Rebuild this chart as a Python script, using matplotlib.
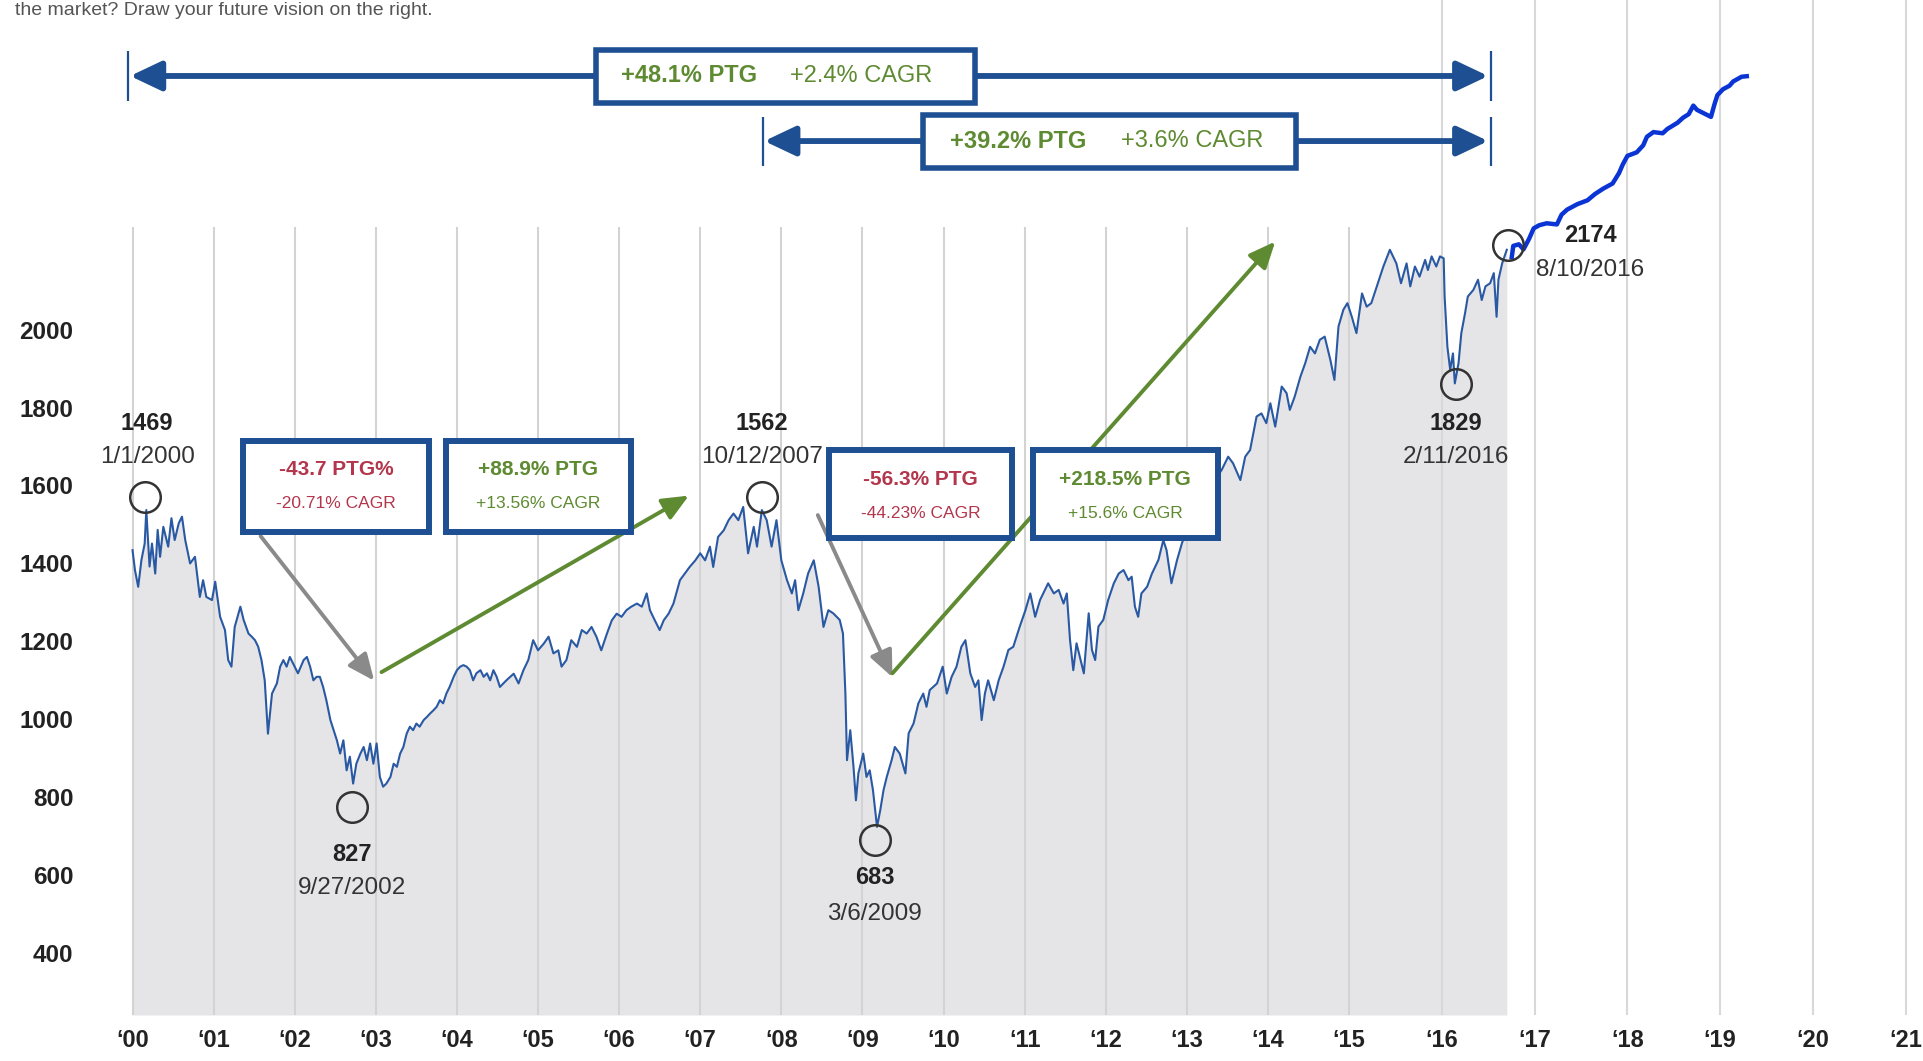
import numpy as np
import matplotlib
matplotlib.use("Agg")
import matplotlib.pyplot as plt
from matplotlib.patches import Rectangle

# ---------------- data ----------------
seg_a_years = [2000.00, 2000.03, 2000.07, 2000.11, 2000.15, 2000.17, 2000.21, 2000.24, 2000.28, 2000.31,
               2000.34, 2000.38, 2000.44, 2000.48, 2000.52, 2000.57, 2000.61, 2000.65, 2000.71, 2000.77,
               2000.83, 2000.87, 2000.91, 2000.98, 2001.02, 2001.08, 2001.14, 2001.18, 2001.22, 2001.26,
               2001.33, 2001.37, 2001.43, 2001.47, 2001.51, 2001.55, 2001.59, 2001.63, 2001.67, 2001.72,
               2001.78, 2001.82, 2001.86, 2001.90, 2001.94, 2001.98, 2002.04, 2002.11, 2002.15, 2002.19,
               2002.23, 2002.27, 2002.31, 2002.35, 2002.39, 2002.44, 2002.48, 2002.52, 2002.56, 2002.60,
               2002.64, 2002.68, 2002.72, 2002.76, 2002.81, 2002.85, 2002.89, 2002.93, 2002.97, 2003.01,
               2003.05, 2003.09, 2003.13, 2003.18, 2003.22, 2003.26, 2003.30, 2003.34, 2003.38, 2003.42,
               2003.46, 2003.50, 2003.54, 2003.59, 2003.63, 2003.67, 2003.71, 2003.75, 2003.79, 2003.83,
               2003.87, 2003.91, 2003.96, 2004.00, 2004.04, 2004.08, 2004.12, 2004.16, 2004.20, 2004.24,
               2004.29, 2004.33, 2004.37, 2004.41, 2004.45, 2004.49]
seg_a_values = [1434, 1383, 1340, 1409, 1451, 1537, 1392, 1451, 1374, 1486,
                1417, 1494, 1443, 1516, 1460, 1503, 1520, 1460, 1400, 1417,
                1314, 1357, 1314, 1306, 1353, 1263, 1229, 1152, 1135, 1237,
                1289, 1255, 1220, 1212, 1203, 1186, 1152, 1100, 963, 1066,
                1092, 1135, 1152, 1135, 1160, 1143, 1118, 1152, 1160, 1135,
                1100, 1109, 1109, 1083, 1049, 998, 972, 946, 912, 946,
                869, 904, 835, 886, 912, 929, 895, 938, 886, 938,
                852, 827, 835, 852, 886, 878, 912, 929, 963, 981,
                972, 989, 981, 998, 1006, 1015, 1023, 1032, 1049, 1041,
                1066, 1083, 1109, 1126, 1135, 1139, 1135, 1126, 1100, 1118,
                1126, 1109, 1118, 1100, 1126, 1109]

seg_b_years = [2004.53, 2004.61, 2004.70, 2004.76, 2004.82, 2004.88, 2004.94, 2005.00, 2005.07, 2005.13,
               2005.19, 2005.25, 2005.29, 2005.35, 2005.41, 2005.48, 2005.54, 2005.60, 2005.66, 2005.72,
               2005.78, 2005.85, 2005.91, 2005.97, 2006.03, 2006.09, 2006.15, 2006.22, 2006.28, 2006.34,
               2006.38, 2006.44, 2006.50, 2006.55, 2006.61, 2006.67, 2006.75, 2006.81, 2006.87, 2006.94,
               2007.00, 2007.06, 2007.12, 2007.16, 2007.22, 2007.29, 2007.35, 2007.41, 2007.47, 2007.53,
               2007.59, 2007.66, 2007.70, 2007.76, 2007.82, 2007.88, 2007.94, 2008.00, 2008.07, 2008.13,
               2008.17, 2008.21, 2008.27, 2008.33, 2008.40, 2008.46, 2008.52, 2008.58]
seg_b_values = [1083, 1100, 1117, 1092, 1126, 1152, 1203, 1177, 1194, 1212,
                1169, 1177, 1135, 1152, 1203, 1186, 1229, 1220, 1237, 1212,
                1177, 1220, 1254, 1271, 1263, 1280, 1289, 1297, 1289, 1323,
                1280, 1254, 1229, 1254, 1271, 1297, 1357, 1374, 1391, 1408,
                1426, 1408, 1443, 1391, 1468, 1485, 1511, 1528, 1511, 1545,
                1426, 1494, 1443, 1537, 1511, 1443, 1511, 1408, 1357, 1323,
                1357, 1280, 1323, 1374, 1408, 1340, 1237, 1280]

seg_c_years = [2008.64, 2008.72, 2008.76, 2008.79, 2008.81, 2008.85, 2008.89, 2008.92, 2008.95, 2009.01,
               2009.05, 2009.09, 2009.13, 2009.18, 2009.22, 2009.26, 2009.30, 2009.36, 2009.40, 2009.46,
               2009.53, 2009.57, 2009.63, 2009.69, 2009.75, 2009.79, 2009.83, 2009.92, 2009.99, 2010.04,
               2010.10, 2010.16, 2010.22, 2010.27, 2010.33, 2010.39, 2010.43, 2010.47, 2010.51, 2010.55,
               2010.62, 2010.68, 2010.74, 2010.80, 2010.86, 2010.94, 2011.01, 2011.07, 2011.13, 2011.19,
               2011.25, 2011.29, 2011.36, 2011.42, 2011.48, 2011.52, 2011.56, 2011.60, 2011.64, 2011.69,
               2011.73, 2011.79, 2011.83, 2011.87, 2011.91, 2011.97, 2012.03, 2012.10, 2012.16, 2012.22,
               2012.28, 2012.32, 2012.36, 2012.40, 2012.44, 2012.51, 2012.57, 2012.65, 2012.71, 2012.75,
               2012.81, 2012.88, 2012.94, 2013.00, 2013.15, 2013.30]
seg_c_values = [1272, 1255, 1220, 1066, 895, 972, 878, 792, 861, 912,
                852, 869, 818, 724, 767, 818, 852, 895, 929, 912,
                861, 964, 989, 1041, 1066, 1032, 1075, 1092, 1135, 1066,
                1109, 1135, 1186, 1203, 1118, 1083, 1100, 998, 1066, 1100,
                1049, 1100, 1135, 1178, 1186, 1238, 1280, 1323, 1263, 1306,
                1332, 1349, 1323, 1332, 1297, 1323, 1203, 1126, 1195, 1152,
                1118, 1272, 1178, 1152, 1238, 1255, 1306, 1349, 1374, 1383,
                1357, 1366, 1289, 1263, 1323, 1340, 1374, 1409, 1460, 1434,
                1349, 1409, 1452, 1486, 1540, 1600]

seg_d_years = [2013.43, 2013.51, 2013.57, 2013.66, 2013.72, 2013.78, 2013.86, 2013.92, 2013.98, 2014.03,
               2014.09, 2014.17, 2014.23, 2014.27, 2014.33, 2014.40, 2014.46, 2014.52, 2014.58, 2014.64,
               2014.70, 2014.77, 2014.82, 2014.87, 2014.93, 2014.98, 2015.03, 2015.08, 2015.14, 2015.19,
               2015.24, 2015.30, 2015.37, 2015.44, 2015.51, 2015.56, 2015.62, 2015.66, 2015.71, 2015.76,
               2015.82, 2015.85, 2015.89, 2015.94, 2015.98, 2016.02, 2016.03, 2016.06, 2016.09, 2016.12,
               2016.14, 2016.18, 2016.21, 2016.25, 2016.28, 2016.34, 2016.39, 2016.43, 2016.47, 2016.52,
               2016.56, 2016.59, 2016.61, 2016.65, 2016.70]
seg_d_values = [1640, 1674, 1657, 1614, 1674, 1691, 1777, 1785, 1760, 1811,
                1751, 1854, 1837, 1794, 1828, 1879, 1914, 1956, 1939, 1974,
                1982, 1922, 1871, 2008, 2051, 2068, 2033, 1991, 2093, 2059,
                2068, 2111, 2162, 2205, 2170, 2119, 2170, 2111, 2162, 2136,
                2179, 2153, 2188, 2162, 2188, 2183, 2085, 1956, 1897, 1939,
                1862, 1914, 1991, 2042, 2085, 2102, 2128, 2076, 2111, 2119,
                2145, 2033, 2128, 2170, 2205]

vision_years = [2016.75, 2016.77, 2016.83, 2016.88, 2016.94, 2016.99, 2017.05, 2017.13, 2017.24, 2017.29,
                2017.35, 2017.46, 2017.57, 2017.65, 2017.74, 2017.84, 2017.91, 2017.95, 2018.00, 2018.10,
                2018.17, 2018.21, 2018.28, 2018.38, 2018.43, 2018.54, 2018.60, 2018.66, 2018.71, 2018.75,
                2018.90, 2018.94, 2018.97, 2019.03, 2019.10, 2019.14, 2019.23, 2019.31]
vision_values = [2180, 2215, 2219, 2206, 2233, 2260, 2268, 2273, 2270, 2295,
                 2308, 2322, 2332, 2348, 2362, 2375, 2402, 2424, 2446, 2455,
                 2473, 2495, 2507, 2504, 2515, 2531, 2544, 2553, 2575, 2564,
                 2546, 2580, 2602, 2617, 2626, 2637, 2649, 2651]

tick_years = list(range(2000, 2022))
tick_labels = ["\u2018%02d" % (y % 100) for y in tick_years]
ytick_values = [400, 600, 800, 1000, 1200, 1400, 1600, 1800, 2000]

circle_years = [2000.15, 2002.71, 2007.76, 2009.15, 2016.15, 2016.71]
circle_values = [1570, 775, 1570, 690, 1861, 2217]
point_numbers = ["1469", "827", "1562", "683", "1829", "2174"]
point_dates = ["1/1/2000", "9/27/2002", "10/12/2007", "3/6/2009", "2/11/2016", "8/10/2016"]

box_lines1 = ["-43.7 PTG%", "+88.9% PTG", "-56.3% PTG", "+218.5% PTG"]
box_lines2 = ["-20.71% CAGR", "+13.56% CAGR", "-44.23% CAGR", "+15.6% CAGR"]
box_is_loss = [True, False, True, False]
top_ptg = ["+48.1% PTG", "+39.2% PTG"]
top_cagr = ["+2.4% CAGR", "+3.6% CAGR"]
top_start_years = [1999.95, 2007.77]
top_end_year = 2016.53

caption = "the market? Draw your future vision on the right."

# ---------------- layout / styling ----------------
W, H, DPI = 1923, 1061, 100
RED = "#b3364c"
GREEN = "#5e8a31"
NAVY = "#1d4f92"
LINE = "#2a59a3"
VISION = "#0a34d4"
TXT = "#222222"

plt.rcParams["font.family"] = ["Liberation Sans", "DejaVu Sans"]

fig = plt.figure(figsize=(W / DPI, H / DPI), dpi=DPI)
ax = fig.add_axes([0, 0, 1, 1])

# piecewise-linear year axis (spacing widens after 2015, as in the picture)
YB = [1990.0, 2000.0, 2015.0, 2025.0]
PB = [-678.5, 132.5, 1349.0, 2277.0]
ax.set_xscale("function", functions=(lambda x: np.interp(x, YB, PB),
                                     lambda p: np.interp(p, PB, YB)))
ax.set_xlim(1998.366, 2021.185)
ax.set_ylim(123, 2846)
for s in ax.spines.values():
    s.set_visible(False)

years = np.array(seg_a_years + seg_b_years + seg_c_years + seg_d_years)
values = np.array(seg_a_values + seg_b_values + seg_c_values + seg_d_values)

BASE = 241
ax.fill_between(years, BASE, values, color="#e5e4e7", lw=0, zorder=1)
ax.vlines(tick_years[:16], BASE, 2264, color="#d3d3d3", lw=1.5, zorder=2)
ax.vlines(tick_years[16:], BASE, 2846, color="#d8d8d8", lw=1.5, zorder=2)
ax.plot(years, values, color=LINE, lw=1.5, zorder=3)
ax.plot(vision_years, vision_values, color=VISION, lw=3.2, zorder=3,
        solid_capstyle="butt", solid_joinstyle="round")

# ticks
ax.set_xticks(tick_years)
ax.set_xticklabels(tick_labels, fontsize=17, fontweight="bold", color=TXT)
ax.tick_params(axis="x", length=0, pad=-23)
ax.set_yticks(ytick_values)
ax.set_yticklabels([str(v) for v in ytick_values], fontsize=17.5, fontweight="bold", color=TXT)
ax.tick_params(axis="y", length=0, pad=-53)

# circles and labels
ax.plot(circle_years, circle_values, "o", ms=22, mfc="none", mec="#333333", mew=1.8, zorder=6)
num_pos = [(2000.18, 1760), (2002.71, 652), (2007.76, 1760), (2009.15, 593), (2016.15, 1760), (2017.60, 2242)]
date_pos = [(2000.18, 1673), (2002.71, 567), (2007.76, 1673), (2009.15, 501), (2016.15, 1673), (2017.60, 2154)]
for (nx, ny), (dx, dy), n, d in zip(num_pos, date_pos, point_numbers, point_dates):
    ax.text(nx, ny, n, ha="center", va="center", fontsize=17, fontweight="bold", color=TXT, zorder=7)
    ax.text(dx, dy, d, ha="center", va="center", fontsize=17.5, color="#333333", zorder=7)

# diagonal arrows
diag = [((2001.58, 1470), (2002.98, 1099), "#8a8a8a"),
        ((2003.07, 1121), (2006.86, 1574), GREEN),
        ((2008.45, 1524), (2009.37, 1108), "#8a8a8a"),
        ((2009.37, 1118), (2014.09, 2226), GREEN)]
for start, end, col in diag:
    ax.annotate("", xy=end, xytext=start,
                arrowprops=dict(arrowstyle="-|>,head_length=0.8,head_width=0.35", color=col,
                                lw=2.8, mutation_scale=20, shrinkA=0, shrinkB=0),
                zorder=4)

# boxes
box_x = [(2001.36, 2003.66), (2003.86, 2006.15), (2008.59, 2010.84), (2011.10, 2013.38)]
box_y = [(1480, 1713), (1480, 1713), (1464, 1691), (1464, 1691)]
line_y = [(1641, 1553), (1641, 1553), (1615, 1527), (1615, 1527)]
for (x0, x1), (y0, y1), (ly1, ly2), t1, t2, loss in zip(box_x, box_y, line_y, box_lines1, box_lines2, box_is_loss):
    ax.add_patch(Rectangle((x0, y0), x1 - x0, y1 - y0, facecolor="white", edgecolor=NAVY,
                           lw=4.3, zorder=5))
    cx = (x0 + x1) / 2
    col = RED if loss else GREEN
    ax.text(cx, ly1, t1, ha="center", va="center", fontsize=15, fontweight="bold", color=col, zorder=7)
    ax.text(cx, ly2, t2, ha="center", va="center", fontsize=12.5, color=col, zorder=7)

# top range arrows
top_y = [2651, 2484]
tick_span = [(2588, 2714), (2421, 2547)]
top_box_x = [(2005.72, 2010.39), (2009.75, 2014.35)]
top_box_y = [(2582, 2717), (2415, 2550)]
ptg_x = [2006.86, 2010.92]
cagr_x = [2008.99, 2013.06]
for i in range(2):
    ax.annotate("", xy=(top_end_year - 0.03, top_y[i]), xytext=(top_start_years[i] + 0.02, top_y[i]),
                arrowprops=dict(arrowstyle="<|-|>,head_length=0.95,head_width=0.45", color=NAVY,
                                lw=4.2, mutation_scale=20, shrinkA=0, shrinkB=0),
                zorder=4)
    ax.vlines([top_start_years[i], top_end_year], tick_span[i][0], tick_span[i][1],
              color=NAVY, lw=1.6, zorder=4)
    (x0, x1), (y0, y1) = top_box_x[i], top_box_y[i]
    ax.add_patch(Rectangle((x0, y0), x1 - x0, y1 - y0, facecolor="white", edgecolor=NAVY,
                           lw=4.0, zorder=5))
    ax.text(ptg_x[i], top_y[i], top_ptg[i], ha="center", va="center", fontsize=17,
            fontweight="bold", color=GREEN, zorder=7)
    ax.text(cagr_x[i], top_y[i], top_cagr[i], ha="center", va="center", fontsize=17,
            color=GREEN, zorder=7)

# caption at the very top (kept fully inside the figure)
fig.text(0.008, 1 - 2 / H, caption, ha="left", va="top", fontsize=14, color="#555555")

fig.savefig("out.png", dpi=DPI, facecolor="white")
